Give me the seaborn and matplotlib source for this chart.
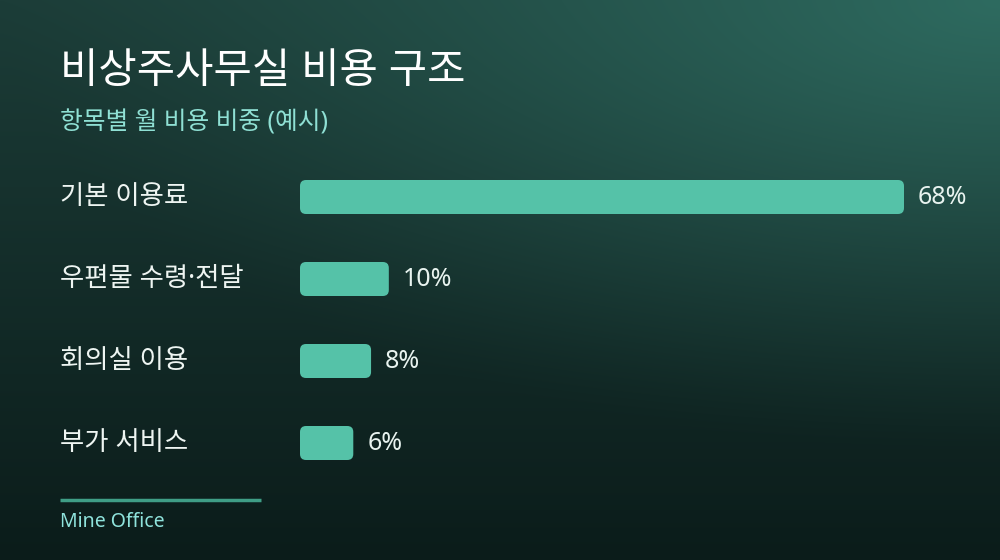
import numpy as np
import pandas as pd
import matplotlib
matplotlib.use("Agg")
import matplotlib.pyplot as plt
import seaborn as sns
from matplotlib.patches import FancyBboxPatch

# ---- data ----
categories = ["기본 이용료", "우편물 수령·전달", "회의실 이용", "부가 서비스"]
shares = [68, 10, 8, 6]
value_labels = ["68%", "10%", "8%", "6%"]
title = "비상주사무실 비용 구조"
subtitle = "항목별 월 비용 비중 (예시)"
source = "Mine Office"

sns.set_theme(style="white")
FAM = ["Noto Sans", "Noto Sans CJK KR", "DejaVu Sans"]
plt.rcParams["font.family"] = FAM

W, H = 1000, 560
fig = plt.figure(figsize=(W / 100, H / 100), dpi=100)

# ---- background gradient ----
bg = fig.add_axes([0, 0, 1, 1])
yy, xx = np.mgrid[0:H, 0:W].astype(float)
top = np.array([0x1c, 0x3d, 0x38]) / 255
bot = np.array([0x0b, 0x1c, 0x1a]) / 255
t = (yy / H)[..., None]
base = top * (1 - t) + bot * t
glow_c = np.array([0x2e, 0x6b, 0x60]) / 255
d = np.sqrt(((xx - 1000) / 1000) ** 2 + (yy / 450) ** 2)
w = np.clip(1 - d, 0, 1)[..., None] ** 1.2
img = base * (1 - w) + glow_c * w
bg.imshow(img, extent=[0, W, H, 0], aspect="auto", interpolation="bilinear")
bg.set_xlim(0, W)
bg.set_ylim(H, 0)
bg.axis("off")

# ---- titles ----
bg.text(60, 72, title, color="white", fontsize=30, fontweight="medium",
        va="center", ha="left")
bg.text(60, 123, subtitle, color="#8fe0d4", fontsize=17.8, va="center", ha="left")

# ---- footer ----
bg.plot([60, 261], [500, 500], color="#3f9e86", lw=2.5, solid_capstyle="butt")
bg.text(60, 522, source, color="#8fe3dc", fontsize=14, va="center", ha="left")

# ---- bars ----
x0, x1 = 300, 904
step = 82
y_top = 197 - step / 2
y_bot = y_top + step * len(categories)
ax = fig.add_axes([x0 / W, 1 - y_bot / H, (x1 - x0) / W, (y_bot - y_top) / H])
ax.patch.set_alpha(0)
df = pd.DataFrame({"category": categories, "share": shares})
bar_h = 34 / step
sns.barplot(data=df, x="share", y="category", orient="h", ax=ax, width=bar_h,
            color="#55c2a8", saturation=1)
ax.set_xlim(0, max(shares))
ax.set_ylim(len(categories) - 0.5, -0.5)
ax.axis("off")

px_per_x = (x1 - x0) / max(shares)
aspect = px_per_x / step
r = 6 / px_per_x
for p in list(ax.patches):
    bx, by, bw, bh = p.get_x(), p.get_y(), p.get_width(), p.get_height()
    fc = p.get_facecolor()
    p.remove()
    ax.add_patch(FancyBboxPatch((bx, by), bw, bh,
                                boxstyle=f"round,pad=0,rounding_size={r}",
                                mutation_aspect=aspect, fc=fc, ec="none"))

for i, (v, lab, cat) in enumerate(zip(shares, value_labels, categories)):
    ax.text(v + 14 / px_per_x, i, lab, color="#e8f3ef", fontsize=18,
            va="center", ha="left")
    bg.text(60, 197 + step * i, cat, color="#eef5f2", fontsize=19,
            va="center", ha="left")

fig.savefig("out.png", dpi=100)
